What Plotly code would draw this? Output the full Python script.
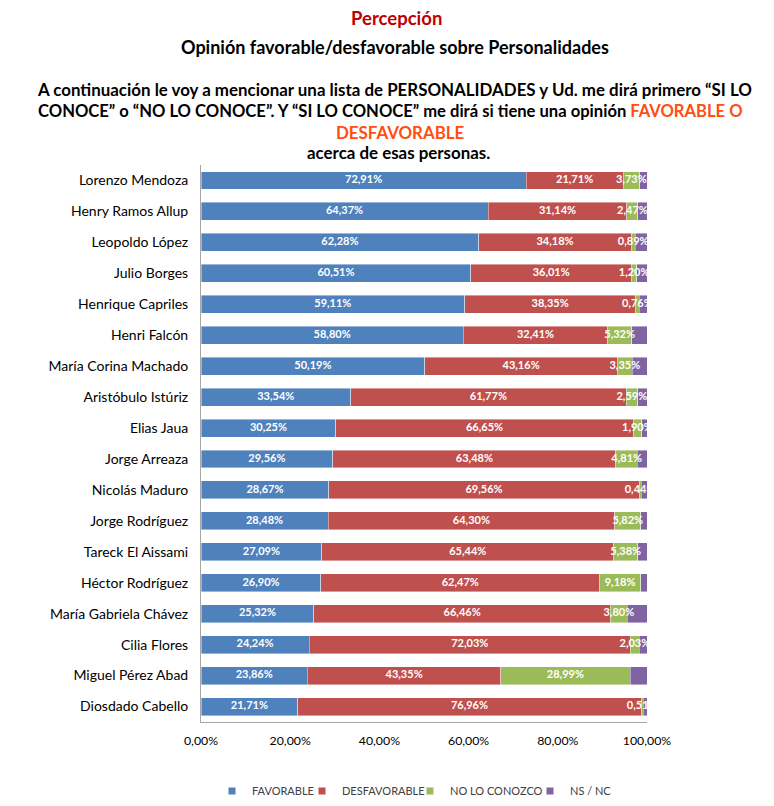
import plotly.graph_objects as go

names = ["Lorenzo Mendoza", "Henry Ramos Allup", "Leopoldo López", "Julio Borges",
         "Henrique Capriles", "Henri Falcón", "María Corina Machado", "Aristóbulo Istúriz",
         "Elias Jaua", "Jorge Arreaza", "Nicolás Maduro", "Jorge Rodríguez",
         "Tareck El Aissami", "Héctor Rodríguez", "María Gabriela Chávez", "Cilia Flores",
         "Miguel Pérez Abad", "Diosdado Cabello"]
favorable = [72.91, 64.37, 62.28, 60.51, 59.11, 58.80, 50.19, 33.54, 30.25, 29.56,
             28.67, 28.48, 27.09, 26.90, 25.32, 24.24, 23.86, 21.71]
desfavorable = [21.71, 31.14, 34.18, 36.01, 38.35, 32.41, 43.16, 61.77, 66.65, 63.48,
                69.56, 64.30, 65.44, 62.47, 66.46, 72.03, 43.35, 76.96]
no_conozco = [3.73, 2.47, 0.89, 1.20, 0.76, 5.32, 3.35, 2.59, 1.90, 4.81,
              0.44, 5.82, 5.38, 9.18, 3.80, 2.03, 28.99, 0.51]
ns_nc = [1.65, 2.02, 2.65, 2.28, 1.78, 3.47, 3.30, 2.10, 1.20, 2.15,
         1.33, 1.40, 2.09, 1.45, 4.42, 1.70, 3.80, 0.82]
x_ticks = [0, 20, 40, 60, 80, 100]

series = [
    ("FAVORABLE", favorable, "#4F81BD", True),
    ("DESFAVORABLE", desfavorable, "#C0504D", True),
    ("NO LO CONOZCO", no_conozco, "#9BBB59", True),
    ("NS / NC", ns_nc, "#8064A2", False),
]

FONT = "Lato"

def fmt(v):
    return f"{v:.2f}".replace(".", ",") + "%"

# page has an 8px body margin: figure origin is at screen (8, 8)
OFF = 8
W, H = 766, 798
L, T, PW, PH = 193, 157, 446, 557

legend_ids = ["legend", "legend2", "legend3", "legend4"]
legend_text_x = [252, 342, 450, 570]   # screen x where each legend label starts

fig = go.Figure()
for name, vals, color, _ in series:
    fig.add_trace(go.Bar(
        name=name, y=names, x=vals, orientation="h", showlegend=False,
        marker=dict(color=color, line=dict(color="rgba(255,255,255,0.7)", width=0.6)),
        hoverinfo="name+x",
    ))

# legend-only entries with small square keys
for (name, vals, color, _), lid in zip(series, legend_ids):
    fig.add_trace(go.Scatter(
        name=name, x=[None], y=[None], mode="markers", legend=lid,
        marker=dict(symbol="square", size=7, color=color), hoverinfo="skip",
    ))

# labels centred on each segment, clipped to plot area
base = [0.0] * len(names)
for name, vals, color, labelled in series:
    centers = [b + v / 2 for b, v in zip(base, vals)]
    if labelled:
        fig.add_trace(go.Scatter(
            x=centers, y=names, mode="text", text=[fmt(v) for v in vals],
            textposition="middle center",
            textfont=dict(family=FONT, size=11, color="white", weight="bold"),
            showlegend=False, hoverinfo="skip", cliponaxis=True,
        ))
    base = [b + v for b, v in zip(base, vals)]

legends = {}
for lid, tx in zip(legend_ids, legend_text_x):
    legends[lid] = dict(orientation="h", xref="container", yref="container",
                        x=(tx - 40 - OFF) / W, xanchor="left",
                        y=1 - (791 - OFF) / H, yanchor="middle",
                        itemsizing="trace",
                        font=dict(family=FONT, size=11, color="#404040"),
                        bgcolor="rgba(0,0,0,0)")

fig.update_layout(
    barmode="stack",
    bargap=0.42,
    width=W, height=H,
    margin=dict(l=L, r=W - L - PW, t=T, b=H - T - PH, autoexpand=False),
    paper_bgcolor="white", plot_bgcolor="white",
    separators=",.",
    font=dict(family=FONT, color="#000000"),
    showlegend=True,
    xaxis=dict(range=[0, 100], tickvals=x_ticks, ticktext=[fmt(t) for t in x_ticks],
               showgrid=False, zeroline=False, showline=True, linecolor="#A6A6A6",
               linewidth=1, ticks="", ticklabelstandoff=7,
               tickfont=dict(family=FONT, size=12.3, color="#000000"), fixedrange=True),
    yaxis=dict(categoryorder="array", categoryarray=names,
               range=[len(names) - 0.5, -0.5],
               showgrid=False, zeroline=False, showline=True, linecolor="#A6A6A6",
               linewidth=1, ticks="", ticklabelstandoff=9,
               tickfont=dict(family=FONT, size=14, color="#000000"), fixedrange=True),
    **legends,
)

orange = "#FF4E12"
# (text, screen centre x, screen centre y, size, colour)
lines = [
    ("<b>Percepción</b>", 396, 18, 18.5, "#C00000"),
    ("<b>Opinión favorable/desfavorable sobre Personalidades</b>", 395, 47, 18, "#000000"),
    ("<b>A continuación le voy a mencionar una lista de PERSONALIDADES y Ud. me dirá primero “SI LO</b>", 394, 89, 16.9, "#000000"),
    ("<b>CONOCE” o “NO LO CONOCE”. Y “SI LO CONOCE” me dirá si tiene una opinión "
     f"<span style='color:{orange}'>FAVORABLE O</span></b>", 390, 111, 16.6, "#000000"),
    (f"<b><span style='color:{orange}'>DESFAVORABLE</span></b>", 400, 132, 16.9, "#000000"),
    ("<b>acerca de esas personas.</b>", 398, 152, 16.9, "#000000"),
]
for text, xpx, ypx, size, color in lines:
    fig.add_annotation(text=text, xref="paper", yref="paper",
                       x=(xpx - OFF - L) / PW, y=1 + (T - (ypx - OFF)) / PH,
                       xanchor="center", yanchor="middle", showarrow=False,
                       font=dict(family=FONT, size=size, color=color))

fig.write_html("out.html")
